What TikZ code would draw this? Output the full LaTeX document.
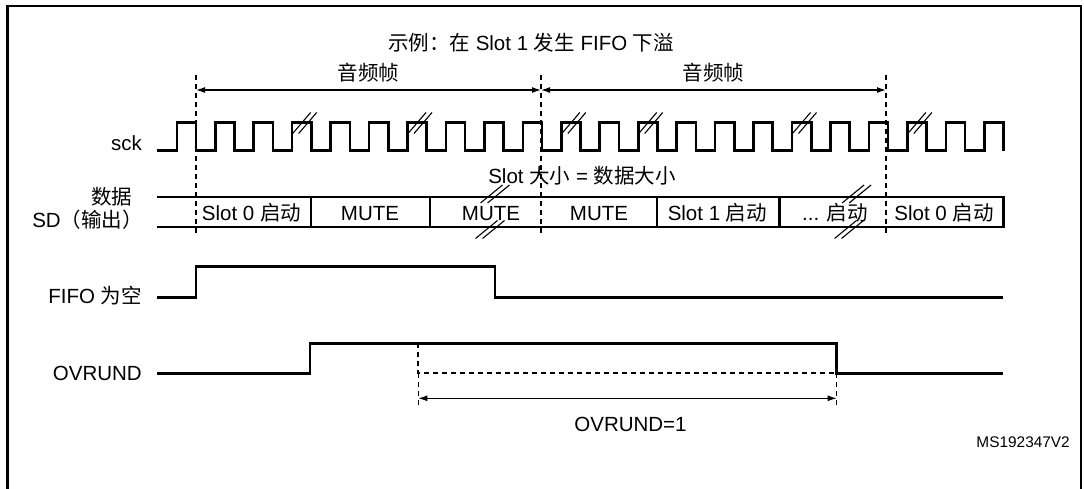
\documentclass[tikz,border=0pt]{standalone}
\usepackage{fontspec}
\setmainfont{Liberation Sans}
\newfontfamily\cjk{Noto Sans CJK SC}
\usetikzlibrary{arrows.meta}
\begin{document}
\begin{tikzpicture}[x=1pt,y=-1pt,
  wave/.style={line width=2.6pt, line join=miter},
  bus/.style={line width=2.2pt},
  guide/.style={line width=1.2pt, dash pattern=on 5pt off 4pt},
  thickdash/.style={line width=2.2pt, dash pattern=on 5pt off 4pt},
  dim/.style={line width=1.2pt, {Latex[length=9pt,width=6pt]}-{Latex[length=9pt,width=6pt]}},
  lbl/.style={font=\fontsize{20.5}{24}\selectfont, inner sep=0pt, anchor=base},
  small/.style={font=\fontsize{15.4}{18}\selectfont, inner sep=0pt, anchor=base east},
  brk/.pic={\draw[line width=1.1pt] (-12,10.5) -- (6,-10.5) (-6,10.5) -- (12,-10.5);},
  bbrk/.pic={\draw[line width=1.1pt] (-14.5,9) -- (7.5,-9) (-7.5,9) -- (14.5,-9);}
]
\useasboundingbox (0,0) rectangle (1084,488);
% frame
\draw[line width=2.6pt] (7.5,6) rectangle (1081,520);

% title
\node[lbl] (title) at (531,50) {{\cjk 示例：在} Slot 1 {\cjk 发生} FIFO {\cjk 下溢}};

% frame guides
\foreach \x/\n in {196/g0,541/g1,886/g2}{
  \coordinate (\n t) at (\x,75);
  \coordinate (\n b) at (\x,235);
  \coordinate (\n a) at (\x,90);
  \draw[guide] (\n t) -- (\n b);
}
\draw[dim] (g0a) -- (g1a);
\draw[dim] (g1a) -- (g2a);
\node[lbl] (fr1) at (368.5,80) {\cjk 音频帧};
\node[lbl] (fr2) at (713.5,80) {\cjk 音频帧};

% labels
\node[lbl, anchor=base east] (sckl) at (142,150.5) {sck};
\node[lbl, anchor=base east] (datal) at (132.5,204) {\cjk 数据};
\node[lbl, anchor=base east] (sdl) at (143,227) {SD{\cjk （输出）}};
\node[lbl, anchor=base east] (fifol) at (142,303.5) {FIFO {\cjk 为空}};
\node[lbl, anchor=base east] (ovl) at (142,380.5) {OVRUND};

% sck waveform
\draw[wave] (157,150.5) foreach \k in {0,...,21} {
  -- ({196+38.45*\k-19.2},150.5) -- ({196+38.45*\k-19.2},122.5)
  -- ({196+38.45*\k},122.5) -- ({196+38.45*\k},150.5) };
\foreach \k in {3,6,10,12,16,19}{
  \path ({196+38.45*\k-19.2+12.5},123) pic {brk};
}

% data bus
\draw[bus] (157,197) -- (1003.4,197) -- (1003.4,227) -- (157,227);
\foreach \x in {310.7,430,657.3,779.4}{
  \draw[bus] (\x,197) -- (\x,227);
}
\node[lbl] (s1) at (251.5,220) {Slot 0 {\cjk 启动}};
\node[lbl] (s2) at (370,220) {MUTE};
\node[lbl] (s3) at (491,220) {MUTE};
\node[lbl] (s4) at (599,220) {MUTE};
\node[lbl] (s5) at (717.3,220) {Slot 1 {\cjk 启动}};
\node[lbl] (s6) at (835,220) {... {\cjk 启动}};
\node[lbl] (s7) at (944,220) {Slot 0 {\cjk 启动}};
\path (495,194) pic {bbrk};
\path (490,229.5) pic {bbrk};
\path (856.6,194) pic {bbrk};
\path (849,229.5) pic {bbrk};
\node[lbl] (slotsize) at (582,183) {Slot {\cjk 大小} = {\cjk 数据大小}};

% FIFO empty
\draw[wave] (157,297.3) -- (196,297.3) -- (196,266.7) -- (495,266.7) -- (495,297.3) -- (1003.4,297.3);

% OVRUND
\draw[wave] (157,373.3) -- (310,373.3) -- (310,343.3) -- (836.7,343.3) -- (836.7,373.3) -- (1003.4,373.3);
\coordinate (o1) at (418.3,343.3);
\coordinate (o2) at (418.3,373.3);
\coordinate (o3) at (836.7,373.3);
\coordinate (o4) at (418.3,408);
\coordinate (o5) at (836.7,408);
\coordinate (d1) at (418.3,398.3);
\coordinate (d2) at (836.7,398.3);
\draw[thickdash] (o1) -- (o2) -- (o3);
\draw[guide] (o2) -- (o4);
\draw[guide] (o3) -- (o5);
\draw[dim] (d1) -- (d2);
\node[lbl] (ov1) at (630.5,431.7) {OVRUND=1};

\node[small] (ms) at (1070,447) {MS192347V2};
\end{tikzpicture}
\end{document}
